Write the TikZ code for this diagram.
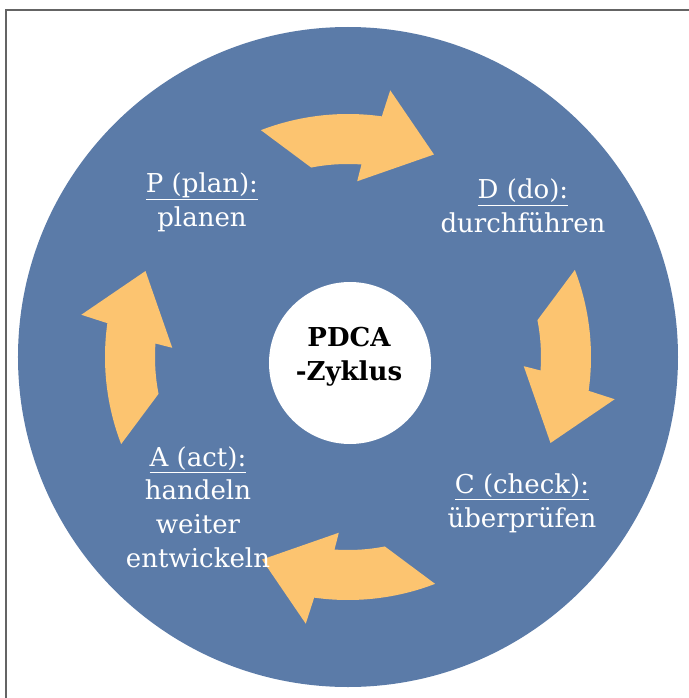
\documentclass[tikz,border=0pt]{standalone}
\usepackage{fontspec}
\setmainfont{DejaVu Serif}

\definecolor{kreisblau}{RGB}{91,123,168}
\definecolor{pfeilgelb}{RGB}{252,196,112}
\definecolor{rahmengrau}{RGB}{100,100,100}

\begin{document}
\begin{tikzpicture}[x=0.025cm, y=0.025cm,
        phase/.style={text=white, align=center, font=\fontsize{18.5}{24}\selectfont},
        zentrum/.style={text=black, align=center, font=\fontsize{18.5}{24}\selectfont\bfseries},
        pfeil/.style={fill=pfeilgelb, draw=none}]
        \useasboundingbox (-348,-341) rectangle (341,357);
        \draw[rahmengrau, line width=1.2pt] (-342,-341) -- (-342,347) -- (341,347);

        \fill[kreisblau] (0,0) circle (330);
        \fill[white] (2,-6) circle (81);

        % die vier Pfeile
        \foreach \w in {0,-90,-180,-270} {
            \fill[pfeil, rotate=\w] (111:243) arc[start angle=111, end angle=82, radius=243]
                -- (81:270) -- (67:220) -- (87:176) -- (86:193)
                arc[start angle=86, end angle=101, radius=193] -- cycle;
        }

        \node[zentrum] (zyklus) at (1,0) {PDCA\\-Zyklus};
        \node[phase] (plan) at (-146,155) {\underline{P (plan):}\\planen};
        \node[phase] (do) at (175,151) {\underline{D (do):}\\durchführen};
        \node[phase] (check) at (174,-146) {\underline{C (check):}\\überprüfen};
        \node[phase] (act) at (-150,-150) {\underline{A (act):}\\handeln\\weiter\\entwickeln};
    \end{tikzpicture}
\end{document}
